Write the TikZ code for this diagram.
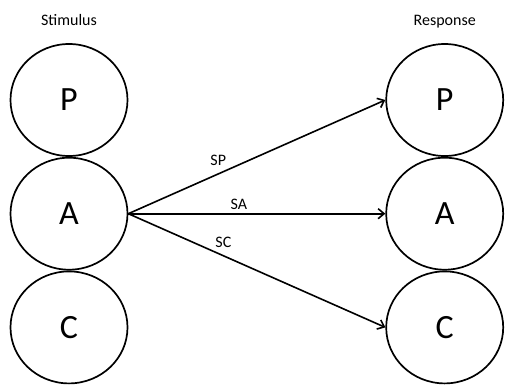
\documentclass[tikz,border=0pt]{standalone}
\usepackage{fontspec}
\setmainfont{Carlito}
\usepackage{tikz}
\usetikzlibrary{arrows.meta,positioning,shapes.geometric}

\begin{document}
\begin{tikzpicture}[
  x=1pt, y=1pt,
  >={Straight Barb[length=6pt,width=10pt]},
  ring/.style={ellipse, draw, line width=1.7pt, minimum width=117pt, minimum height=112pt,
    inner sep=0pt, font=\fontsize{34}{40}\selectfont},
  head/.style={font=\fontsize{16}{19}\selectfont, anchor=base},
  link/.style={->, line width=1.6pt},
  tag/.style={font=\fontsize{16}{19}\selectfont, inner sep=1pt}
]
  \useasboundingbox (0,0) rectangle (507,-389);
  % stimulus side
  \node[ring] (sP) at (69,-100) {P};
  \node[ring,below=0pt of sP] (sA) {A};
  \node[ring,below=0pt of sA] (sC) {C};
  \node[head,above=18pt of sP.north,anchor=base] (stim) {Stimulus};
  % response side
  \node[ring,right=257pt of sP] (rP) {P};
  \node[ring,below=0pt of rP] (rA) {A};
  \node[ring,below=0pt of rA] (rC) {C};
  \node[head,above=18pt of rP.north,anchor=base] (resp) {Response};
  \draw[link] (sA.east) -- node[tag,pos=.35,above=6pt] {SP} (rP.west);
  \draw[link] (sA.east) -- node[tag,pos=.43,above=2pt] {SA} (rA.west);
  \draw[link] (sA.east) -- node[tag,pos=.37,above=6pt] {SC} (rC.west);
\end{tikzpicture}
\end{document}
